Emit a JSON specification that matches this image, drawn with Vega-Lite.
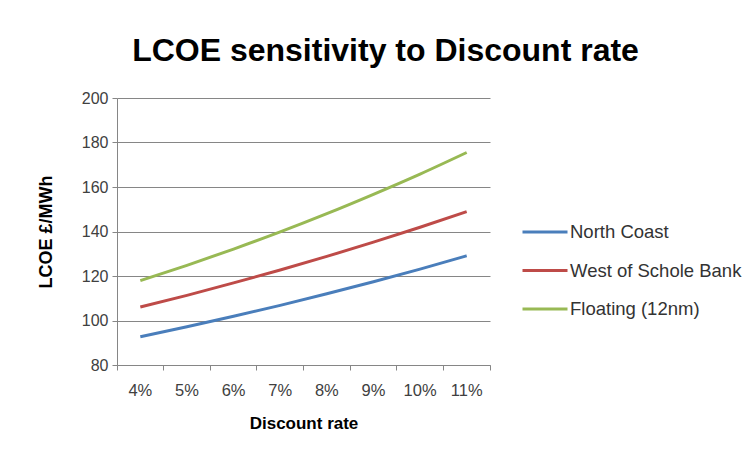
{
  "$schema": "https://vega.github.io/schema/vega-lite/v6.json",
  "autosize": {"type": "none"},
  "width": 373,
  "height": 267,
  "padding": {"left": 117, "top": 98, "right": 265, "bottom": 92},
  "background": "white",
  "title": {
    "text": "LCOE sensitivity to Discount rate",
    "font": "Liberation Sans",
    "fontSize": 32,
    "fontWeight": "bold",
    "color": "#000000",
    "anchor": "middle",
    "dx": 82,
    "offset": 22
  },
  "data": {
    "values": [
      {"rate": "4%", "series": "North Coast", "value": 92.7},
      {"rate": "5%", "series": "North Coast", "value": 97.2},
      {"rate": "6%", "series": "North Coast", "value": 101.9},
      {"rate": "7%", "series": "North Coast", "value": 106.8},
      {"rate": "8%", "series": "North Coast", "value": 112.0},
      {"rate": "9%", "series": "North Coast", "value": 117.4},
      {"rate": "10%", "series": "North Coast", "value": 123.1},
      {"rate": "11%", "series": "North Coast", "value": 129.1},
      {"rate": "4%", "series": "West of Schole Bank", "value": 106.1},
      {"rate": "5%", "series": "West of Schole Bank", "value": 111.3},
      {"rate": "6%", "series": "West of Schole Bank", "value": 116.9},
      {"rate": "7%", "series": "West of Schole Bank", "value": 122.7},
      {"rate": "8%", "series": "West of Schole Bank", "value": 128.8},
      {"rate": "9%", "series": "West of Schole Bank", "value": 135.2},
      {"rate": "10%", "series": "West of Schole Bank", "value": 141.9},
      {"rate": "11%", "series": "West of Schole Bank", "value": 148.9},
      {"rate": "4%", "series": "Floating (12nm)", "value": 117.9},
      {"rate": "5%", "series": "Floating (12nm)", "value": 124.8},
      {"rate": "6%", "series": "Floating (12nm)", "value": 132.1},
      {"rate": "7%", "series": "Floating (12nm)", "value": 139.8},
      {"rate": "8%", "series": "Floating (12nm)", "value": 148.0},
      {"rate": "9%", "series": "Floating (12nm)", "value": 156.7},
      {"rate": "10%", "series": "Floating (12nm)", "value": 165.8},
      {"rate": "11%", "series": "Floating (12nm)", "value": 175.5}
    ]
  },
  "mark": {"type": "line", "strokeWidth": 3, "interpolate": "monotone"},
  "encoding": {
    "x": {
      "field": "rate",
      "type": "ordinal",
      "sort": ["4%", "5%", "6%", "7%", "8%", "9%", "10%", "11%"],
      "scale": {"type": "band", "paddingInner": 0, "paddingOuter": 0},
      "axis": {
        "title": "Discount rate",
        "titleFont": "Liberation Sans",
        "titleFontSize": 17,
        "titleFontWeight": "bold",
        "titleColor": "#000000",
        "titlePadding": 17,
        "labelFont": "Liberation Sans",
        "labelFontSize": 16.5,
        "labelColor": "#404040",
        "labelAngle": 0,
        "labelPadding": 12,
        "bandPosition": 1,
        "tickExtra": true,
        "tickSize": 5,
        "tickColor": "#868686",
        "domainColor": "#868686",
        "grid": false
      }
    },
    "y": {
      "field": "value",
      "type": "quantitative",
      "scale": {"domain": [80, 200], "nice": false, "zero": false},
      "axis": {
        "title": "LCOE £/MWh",
        "titleFont": "Liberation Sans",
        "titleFontSize": 18,
        "titleFontWeight": "bold",
        "titleColor": "#000000",
        "titleAngle": 270,
        "titleX": -71,
        "titleY": 133.5,
        "titleAlign": "center",
        "titleBaseline": "middle",
        "values": [80, 100, 120, 140, 160, 180, 200],
        "labelFont": "Liberation Sans",
        "labelFontSize": 16,
        "labelColor": "#404040",
        "labelPadding": 4,
        "tickSize": 5,
        "tickColor": "#868686",
        "domainColor": "#868686",
        "grid": true,
        "gridColor": "#868686",
        "gridWidth": 1
      }
    },
    "color": {
      "field": "series",
      "type": "nominal",
      "sort": ["North Coast", "West of Schole Bank", "Floating (12nm)"],
      "scale": {
        "domain": ["North Coast", "West of Schole Bank", "Floating (12nm)"],
        "range": ["#4A7EBB", "#BE4B48", "#98B954"]
      },
      "legend": {
        "title": null,
        "orient": "none",
        "legendX": 404,
        "legendY": 110,
        "symbolType": "stroke",
        "symbolSize": 2025,
        "symbolStrokeWidth": 3,
        "labelFont": "Liberation Sans",
        "labelFontSize": 18.5,
        "labelColor": "#333333",
        "labelOffset": 1,
        "labelLimit": 400,
        "rowPadding": 4.5
      }
    }
  },
  "config": {
    "view": {"stroke": null}
  }
}
